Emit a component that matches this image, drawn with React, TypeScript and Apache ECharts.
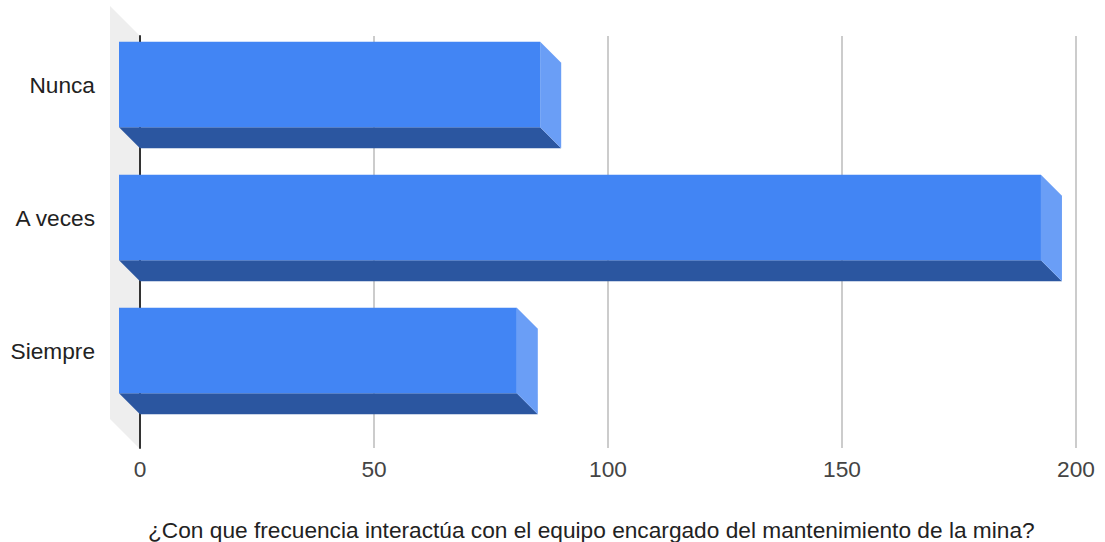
import React, { useEffect, useRef } from "react";
import * as echarts from "echarts";

const categories = ["Nunca", "A veces", "Siempre"];
const values = [90, 197, 85];
const xTicks = [0, 50, 100, 150, 200];
const title = "¿Con que frecuencia interactúa con el equipo encargado del mantenimiento de la mina?";

const DEPTH = 21;
const FONT = "Arial, 'Liberation Sans', sans-serif";
const FS = 22.7;

export default function App() {
  const ref = useRef<HTMLDivElement>(null);
  useEffect(() => {
    if (!ref.current) return;
    const chart = echarts.init(ref.current, undefined, { renderer: "svg" });
    const option: any = {
      animation: false,
      backgroundColor: "#ffffff",
      title: {
        text: title,
        left: 143,
        top: 513,
        textStyle: { fontFamily: FONT, fontSize: FS, fontWeight: "normal", color: "#222222" },
      },
      graphic: [
        {
          type: "polygon",
          z: -10,
          silent: true,
          shape: { points: [[110, 6], [140, 36], [140, 449], [110, 419]] },
          style: { fill: "#eeeeee" },
        },
      ],
      grid: [
        { left: 140, right: 29, top: 36, bottom: 94 },
        { left: 119, right: 50, top: 18, bottom: 125 },
      ],
      xAxis: [
        {
          gridIndex: 0,
          type: "value",
          min: xTicks[0],
          max: xTicks[xTicks.length - 1],
          interval: 50,
          axisLine: { show: false },
          axisTick: { show: false },
          splitLine: { show: true, lineStyle: { color: "#cccccc", width: 2 } },
          axisLabel: { margin: 9, fontFamily: FONT, fontSize: FS, color: "#444444" },
        },
        {
          gridIndex: 1,
          type: "value",
          min: 0,
          max: 200,
          show: false,
        },
      ],
      yAxis: [
        {
          gridIndex: 0,
          type: "category",
          inverse: true,
          data: categories,
          axisLine: { show: true, lineStyle: { color: "#333333", width: 2 } },
          axisTick: { show: false },
          axisLabel: { show: false },
          splitLine: { show: false },
        },
        {
          gridIndex: 1,
          type: "category",
          inverse: true,
          data: categories,
          axisLine: { show: false },
          axisTick: { show: false },
          splitLine: { show: false },
          axisLabel: { margin: 24, fontFamily: FONT, fontSize: FS, color: "#222222" },
        },
      ],
      series: [
        {
          type: "custom",
          xAxisIndex: 1,
          yAxisIndex: 1,
          z: 5,
          data: values.map((v, i) => [v, i]),
          renderItem: (params: any, api: any) => {
            const v = api.value(0);
            const c = api.value(1);
            const p0 = api.coord([0, c]);
            const p1 = api.coord([v, c]);
            const band = api.size([0, 1])[1];
            const h = band * 0.642;
            const x = p0[0];
            const y = p0[1] - h / 2;
            const w = p1[0] - p0[0];
            const d = DEPTH;
            return {
              type: "group",
              children: [
                {
                  type: "polygon",
                  shape: { points: [[x, y + h], [x + w, y + h], [x + w + d, y + h + d], [x + d, y + h + d]] },
                  style: { fill: "#2b56a0" },
                },
                {
                  type: "polygon",
                  shape: { points: [[x + w, y], [x + w + d, y + d], [x + w + d, y + h + d], [x + w, y + h]] },
                  style: { fill: "#6a9ef6" },
                },
                {
                  type: "rect",
                  shape: { x, y, width: w, height: h },
                  style: { fill: "#4285f4" },
                },
              ],
            };
          },
        },
      ],
    };
    chart.setOption(option);
    return () => chart.dispose();
  }, []);
  return (
    <div
      ref={ref}
      style={{ position: "fixed", left: 0, top: 0, width: 1105, height: 542 }}
    />
  );
}
